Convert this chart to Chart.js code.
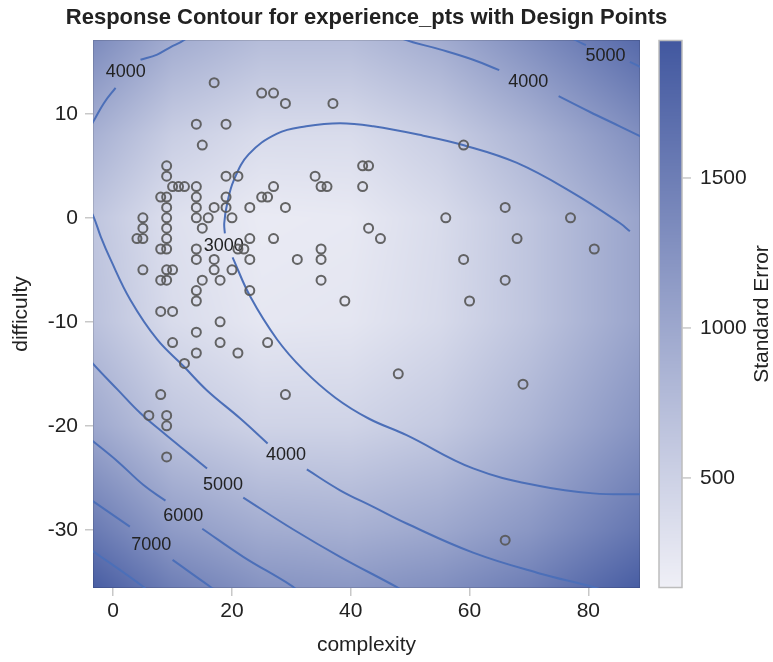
<!DOCTYPE html>
<html><head><meta charset="utf-8">
<script src="https://cdn.jsdelivr.net/npm/chart.js@4/dist/chart.umd.min.js"></script>
<style>html,body{margin:0;padding:0;background:#fff;}canvas{display:block;}</style>
</head><body>
<canvas id="c" width="773" height="662"></canvas>
<script>
// ---------- data ----------
const titleText = 'Response Contour for experience_pts with Design Points';
const xTitle = 'complexity';
const yTitle = 'difficulty';
const seTitle = 'Standard Error';
const xTicks = [0, 20, 40, 60, 80];
const yTicks = [-30, -20, -10, 0, 10];
const seTicks = [500, 1000, 1500];
const xRange = [-3.4, 88.7];
const yRange = [-35.6, 17.1];
const seRange = [133, 1960];

// design points
const complexity = [17,25,27,29,37,14,19,15,59, 9,42,43, 9,19,21,34, 10,11,12,14,27,35,36,42, 8,9,14,19,25,26,
  9,14,17,19,23,29,66, 5,9,14,16,20,56,77, 5,9,15,43, 4,5,9,23,27,45,68, 8,9,14,21,22,35,81,
  14,17,23,31,35,59, 5,9,10,17,20, 8,9,15,18,35,66, 14,23, 14,39,60, 8,10, 18, 14, 10,18,26, 14,21, 12, 48, 69, 8,29, 6,9, 9, 9, 66];
const difficulty = [13,12,12,11,11,9,9,7,7, 5,5,5, 4,4,4,4, 3,3,3,3,3,3,3,3, 2,2,2,2,2,2,
  1,1,1,1,1,1,1, 0,0,0,0,0,0,0, -1,-1,-1,-1, -2,-2,-2,-2,-2,-2,-2, -3,-3,-3,-3,-3,-3,-3,
  -4,-4,-4,-4,-4,-4, -5,-5,-5,-5,-5, -6,-6,-6,-6,-6,-6, -7,-7, -8,-8,-8, -9,-9, -10, -11, -12,-12,-12, -13,-13, -14, -15, -16, -17,-17, -19,-19, -20, -23, -31];

// standard error surface, read on a coarse grid
const seGridX = [-3.4, 10, 25, 40, 55, 70, 88.7];
const seGridY = [17.1, 8, 0, -10, -20, -30, -35.6];
const seRow17 = [1350, 950, 750, 750, 950, 1300, 1750];
const seRow8  = [900, 550, 380, 380, 550, 850, 1300];
const seRow0  = [650, 330, 200, 220, 380, 650, 1050];
const seRowM10 = [700, 380, 240, 260, 400, 650, 1050];
const seRowM20 = [1000, 650, 480, 480, 600, 850, 1250];
const seRowM30 = [1550, 1150, 950, 900, 1000, 1200, 1600];
const seRowM36 = [1900, 1500, 1250, 1200, 1300, 1500, 1900];

// contour lines of predicted experience_pts (null = gap for label)
const contour4000a = [[13.3,18],[12.2,17.2],[9.6,16.4],[7.4,15.7],[4.6,15.2],null,[0.4,12.5],[-1.6,11.0],[-3.3,9.3],[-4.2,8.5]];
const contour3000 = [[87,-1.3],[85.3,-0.5],[77.4,2.4],[67.9,5.3],[58.9,7.0],[52.2,7.9],[43.8,8.8],[38.2,9.1],[32.5,8.8],[27.6,8.1],[22.8,6.1],[20.3,3.6],[19.2,1.4],[18.7,-0.5],[18.8,-1.5],null,
  [20.1,-3.8],[23.1,-7.6],[27.6,-11.7],[32.0,-14.6],[37.4,-17.3],[43,-19.3],[49.4,-20.9],[60.6,-24.1],[71.8,-25.8],[80.8,-26.5],[89.5,-26.6]];
const contour4000b = [[47.5,17.8],[48.8,17.2],[55.0,16.2],[60.6,15.2],[65.0,14.2],null,[75.0,11.7],[80.2,10.2],[85.3,8.8],[90,7.5]];
const contour5000a = [[76.5,17.6],[77.8,17.1],[79.6,16.6],null,[87.0,15.0],[89.5,14.3]];
const contour4000c = [[-4.2,1.0],[-3.3,0.1],[-2.1,-1.8],[-0.45,-4.0],[2.9,-7.9],[7.4,-11.7],[11.9,-14.3],[15.8,-16.6],[21.4,-19.3],[26.0,-21.7],null,
  [32.6,-24.2],[38.2,-26.2],[43.8,-27.8],[49.4,-29.4],[60.6,-32.2],[71.8,-34.2],[80.8,-35.5],[85,-36.3]];
const contour5000b = [[-4.2,-13.4],[-3.3,-14.1],[0.7,-16.5],[4.6,-18.8],[8.5,-20.7],[13,-22.8],[15.8,-24.1],null,[21.9,-26.9],[30.4,-30.0],[38.2,-32.6],[47.7,-35.5],[50,-36.3]];
const contour6000 = [[-3.8,-21.3],[0.7,-23.4],[5.1,-25.7],[8.8,-27.2],null,[15.0,-29.9],[21.9,-32.6],[29.8,-35.3],[32,-36.3]];
const contour7000 = [[-3.8,-27.1],[2.8,-29.7],null,[10.0,-32.9],[16.4,-35.5],[18.5,-36.3]];
const contour8000 = [[-3.8,-31.9],[5.1,-35.5],[6.5,-36.3]];

const contourLabelText = ['4000','4000','5000','3000','4000','5000','6000','7000'];
const contourLabelX = [2.1, 69.9, 82.9, 18.6, 29.1, 18.5, 11.8, 6.4];
const contourLabelY = [14.0, 13.1, 15.6, -2.75, -22.8, -25.7, -28.7, -31.5];

// ---------- helpers ----------
const FONT = "'Liberation Sans', Arial, Helvetica, sans-serif";
const seRows = [seRow17, seRow8, seRow0, seRowM10, seRowM20, seRowM30, seRowM36];
const lo = [240, 240, 247], hi = [66, 88, 160];
function seColor(v) {
  let t = (v - seRange[0]) / (seRange[1] - seRange[0]);
  t = Math.max(0, Math.min(1, t));
  return [lo[0] + (hi[0]-lo[0])*t, lo[1] + (hi[1]-lo[1])*t, lo[2] + (hi[2]-lo[2])*t];
}
function seAt(vx, vy) {
  let i = 0; while (i < seGridX.length - 2 && vx > seGridX[i+1]) i++;
  let j = 0; while (j < seGridY.length - 2 && vy < seGridY[j+1]) j++;
  let tx = (vx - seGridX[i]) / (seGridX[i+1] - seGridX[i]);
  let ty = (vy - seGridY[j]) / (seGridY[j+1] - seGridY[j]);
  tx = Math.max(0, Math.min(1, tx)); ty = Math.max(0, Math.min(1, ty));
  const a = seRows[j][i], b = seRows[j][i+1], c = seRows[j+1][i], d = seRows[j+1][i+1];
  return (a*(1-tx) + b*tx)*(1-ty) + (c*(1-tx) + d*tx)*ty;
}
const toPts = arr => arr.map(p => p ? {x: p[0], y: p[1]} : {x: NaN, y: null});
const contours = [contour4000a, contour3000, contour4000b, contour5000a, contour4000c, contour5000b, contour6000, contour7000, contour8000];

// ---------- plugins ----------
const heatPlugin = {
  id: 'heat',
  beforeDatasetsDraw(chart) {
    const {ctx, chartArea: a, scales: {x, y}} = chart;
    const x0 = Math.round(a.left), y0 = Math.round(a.top);
    const w = Math.round(a.right) - x0, h = Math.round(a.bottom) - y0;
    const img = ctx.createImageData(w, h);
    for (let j = 0; j < h; j++) {
      const vy = y.getValueForPixel(y0 + j + 0.5);
      for (let i = 0; i < w; i++) {
        const vx = x.getValueForPixel(x0 + i + 0.5);
        const c = seColor(seAt(vx, vy));
        const k = (j*w + i)*4;
        img.data[k] = c[0]; img.data[k+1] = c[1]; img.data[k+2] = c[2]; img.data[k+3] = 255;
      }
    }
    ctx.putImageData(img, x0, y0);
    ctx.save();
    ctx.strokeStyle = 'rgba(0,0,0,0.12)'; ctx.lineWidth = 1;
    ctx.strokeRect(x0 + 0.5, y0 + 0.5, w - 1, h - 1);
    ctx.restore();
  }
};
const labelPlugin = {
  id: 'clabels',
  afterDatasetDraw(chart, args) {
    if (args.index !== 1) return;
    const {ctx, scales: {x, y}} = chart;
    ctx.save();
    ctx.font = '18px ' + FONT; ctx.fillStyle = '#222';
    ctx.textAlign = 'center'; ctx.textBaseline = 'middle';
    contourLabelText.forEach((t, i) => ctx.fillText(t, x.getPixelForValue(contourLabelX[i]), y.getPixelForValue(contourLabelY[i])));
    ctx.restore();
  }
};
const decoPlugin = {
  id: 'deco',
  afterDraw(chart) {
    const {ctx, chartArea: a, scales: {y2}} = chart;
    ctx.save();
    // title
    ctx.font = 'bold 22px ' + FONT; ctx.fillStyle = '#222'; ctx.textAlign = 'center'; ctx.textBaseline = 'middle';
    ctx.fillText(titleText, (a.left + a.right)/2, 18);
    // colour bar
    const bx = Math.round(y2.left + 19), bw = 23;
    const top = Math.round(y2.top), bot = Math.round(y2.bottom);
    for (let py = top; py < bot; py++) {
      const c = seColor(y2.getValueForPixel(py + 0.5));
      ctx.fillStyle = `rgb(${c[0]|0},${c[1]|0},${c[2]|0})`;
      ctx.fillRect(bx, py, bw, 1);
    }
    ctx.strokeStyle = '#bdbdbd'; ctx.lineWidth = 1.5;
    ctx.strokeRect(bx, top + 0.5, bw, bot - top - 1);
    ctx.strokeStyle = '#c8c8c8'; ctx.lineWidth = 1.5;
    seTicks.forEach(v => { const py = y2.getPixelForValue(v); ctx.beginPath(); ctx.moveTo(bx + bw, py); ctx.lineTo(bx + bw + 9, py); ctx.stroke(); });
    // colour bar title
    ctx.translate(762, (a.top + a.bottom)/2); ctx.rotate(-Math.PI/2);
    ctx.font = '21px ' + FONT; ctx.fillStyle = '#222'; ctx.textAlign = 'center'; ctx.textBaseline = 'middle';
    ctx.fillText(seTitle, 0, 0);
    ctx.restore();
  }
};

// ---------- chart ----------
const datasets = [{
  type: 'scatter', label: 'design', order: 0,
  data: complexity.map((v, i) => ({x: v, y: difficulty[i]})),
  pointRadius: 4.5, pointBorderWidth: 2, pointBorderColor: 'rgba(88,88,88,0.92)', pointBackgroundColor: 'rgba(0,0,0,0)',
  clip: 0
}];
contours.forEach((c, i) => datasets.push({
  type: 'line', label: 'contour' + i, order: 1, data: toPts(c),
  borderColor: '#4c6fb8', borderWidth: 2, pointRadius: 0, tension: 0.4, spanGaps: false, fill: false, clip: 0
}));

const tickFont = {family: FONT, size: 21};
new Chart(document.getElementById('c'), {
  type: 'scatter',
  data: {datasets},
  options: {
    responsive: false, devicePixelRatio: 1, animation: false,
    layout: {padding: {top: 40, left: 0, right: 0, bottom: 0}},
    plugins: {legend: {display: false}, tooltip: {enabled: false}, title: {display: false}},
    scales: {
      x: {
        type: 'linear', position: 'bottom', min: xRange[0], max: xRange[1],
        afterBuildTicks: s => { s.ticks = xTicks.map(v => ({value: v})); },
        afterFit: s => { s.height = 74; },
        grid: {display: true, drawOnChartArea: false, drawTicks: true, tickLength: 8, color: '#c8c8c8', lineWidth: 1.5},
        border: {display: false},
        ticks: {font: tickFont, color: '#222', padding: 3, maxRotation: 0, callback: v => String(v)},
        title: {display: true, text: xTitle, font: {family: FONT, size: 21}, color: '#222', padding: {top: 2, bottom: 4}}
      },
      y: {
        type: 'linear', position: 'left', min: yRange[0], max: yRange[1],
        afterBuildTicks: s => { s.ticks = yTicks.map(v => ({value: v})); },
        afterFit: s => { s.width = 93; },
        grid: {display: true, drawOnChartArea: false, drawTicks: true, tickLength: 8, color: '#c8c8c8', lineWidth: 1.5},
        border: {display: false},
        ticks: {font: tickFont, color: '#222', padding: 7, callback: v => String(v)},
        title: {display: true, text: yTitle, font: {family: FONT, size: 21}, color: '#222', padding: {top: 9, bottom: 0}}
      },
      y2: {
        type: 'linear', position: 'right', min: seRange[0], max: seRange[1],
        afterBuildTicks: s => { s.ticks = seTicks.map(v => ({value: v})); },
        afterFit: s => { s.width = 133; },
        grid: {display: true, drawOnChartArea: false, drawTicks: true, tickLength: 60, color: 'rgba(0,0,0,0)'},
        border: {display: false},
        ticks: {font: tickFont, color: '#222', padding: 0, callback: v => String(v)}
      }
    }
  },
  plugins: [heatPlugin, labelPlugin, decoPlugin]
});
</script>
</body></html>
